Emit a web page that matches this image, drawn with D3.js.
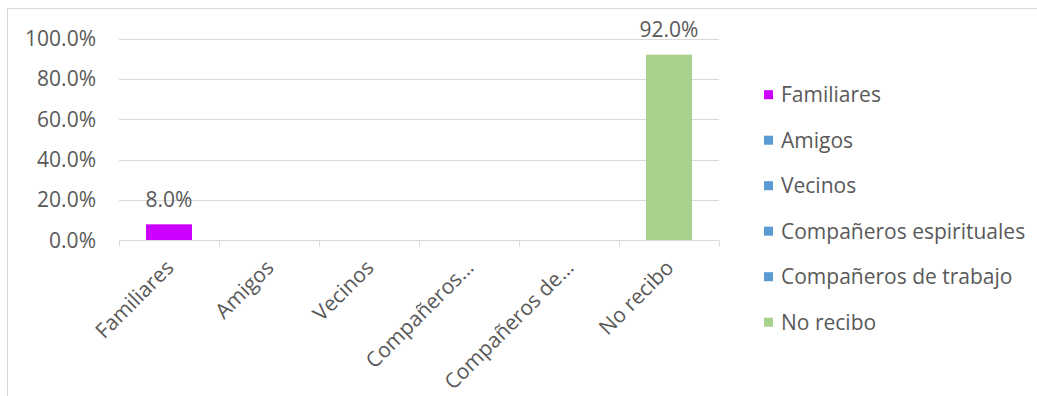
<!DOCTYPE html>
<html><head><meta charset="utf-8">
<script src="https://cdn.jsdelivr.net/npm/d3@7"></script>
<style>body{margin:0;background:#fff}svg{display:block}text{font-family:"Open Sans",sans-serif;fill:#595959}</style>
</head><body>
<svg id="c" width="1037" height="396"></svg>
<script>
const categories = ["Familiares","Amigos","Vecinos","Compañeros espirituales","Compañeros de trabajo","No recibo"];
const tickLabels = ["Familiares","Amigos","Vecinos","Compañeros…","Compañeros de…","No recibo"];
const values = [0.08, null, null, null, null, 0.92];
const colors = ["#CC00FF","#5B9BD5","#5B9BD5","#5B9BD5","#5B9BD5","#A9D18E"];
const yTicks = [0, 0.2, 0.4, 0.6, 0.8, 1.0];

const svg = d3.select("#c");
const FS = 21;
svg.append("rect").attr("x",7.5).attr("y",8.5).attr("width",1100).attr("height",500)
  .attr("fill","none").attr("stroke","#D9D9D9");

const x = d3.scaleBand().domain(categories).range([119,719]).paddingInner(0).paddingOuter(0);
const y = d3.scaleLinear().domain([0,1]).range([240.5,38.5]);

// gridlines
svg.append("g").selectAll("line").data(yTicks.filter(d=>d>0)).join("line")
  .attr("x1",119).attr("x2",719).attr("y1",d=>Math.round(y(d))+0.5).attr("y2",d=>Math.round(y(d))+0.5)
  .attr("stroke","#D9D9D9").attr("stroke-width",1);

// y labels
svg.append("g").selectAll("text").data(yTicks).join("text")
  .attr("x",96).attr("y",d=>y(d)).attr("dy","0.35em").attr("text-anchor","end")
  .style("font-size",FS+"px").text(d=>d3.format(".1%")(d));

// bars
const bw = 46;
const data = categories.map((c,i)=>({c, v:values[i], col:colors[i]})).filter(d=>d.v!=null);
svg.append("g").selectAll("rect").data(data).join("rect")
  .attr("x",d=>x(d.c)+x.bandwidth()/2-bw/2).attr("width",bw)
  .attr("y",d=>y(d.v)).attr("height",d=>y(0)-y(d.v)).attr("fill",d=>d.col);

// value labels
svg.append("g").selectAll("text").data(data).join("text")
  .attr("x",d=>x(d.c)+x.bandwidth()/2).attr("y",d=>y(d.v)-17.5).attr("text-anchor","middle")
  .style("font-size",FS+"px").text(d=>d3.format(".1%")(d.v));

// x axis
const gx = svg.append("g").attr("transform","translate(0,240.5)");
gx.append("line").attr("x1",119).attr("x2",719).attr("stroke","#D9D9D9");
gx.selectAll(".tk").data(d3.range(categories.length+1)).join("line")
  .attr("x1",i=>119+i*x.bandwidth()+0.5).attr("x2",i=>119+i*x.bandwidth()+0.5)
  .attr("y1",0).attr("y2",6).attr("stroke","#D9D9D9");
gx.selectAll(".lbl").data(categories).join("text")
  .attr("text-anchor","end").style("font-size",FS+"px")
  .attr("transform",d=>`translate(${x(d)+x.bandwidth()/2+6},28.5) rotate(-45)`)
  .text((d,i)=>tickLabels[i]);

// legend
const lg = svg.append("g");
categories.forEach((c,i)=>{
  const cy = 94.7 + i*45.5;
  lg.append("rect").attr("x",764).attr("y",cy-4.5).attr("width",9).attr("height",9).attr("fill",colors[i]);
  lg.append("text").attr("x",781).attr("y",cy).attr("dy","0.35em").style("font-size",FS+"px").text(c);
});
</script>
</body></html>
